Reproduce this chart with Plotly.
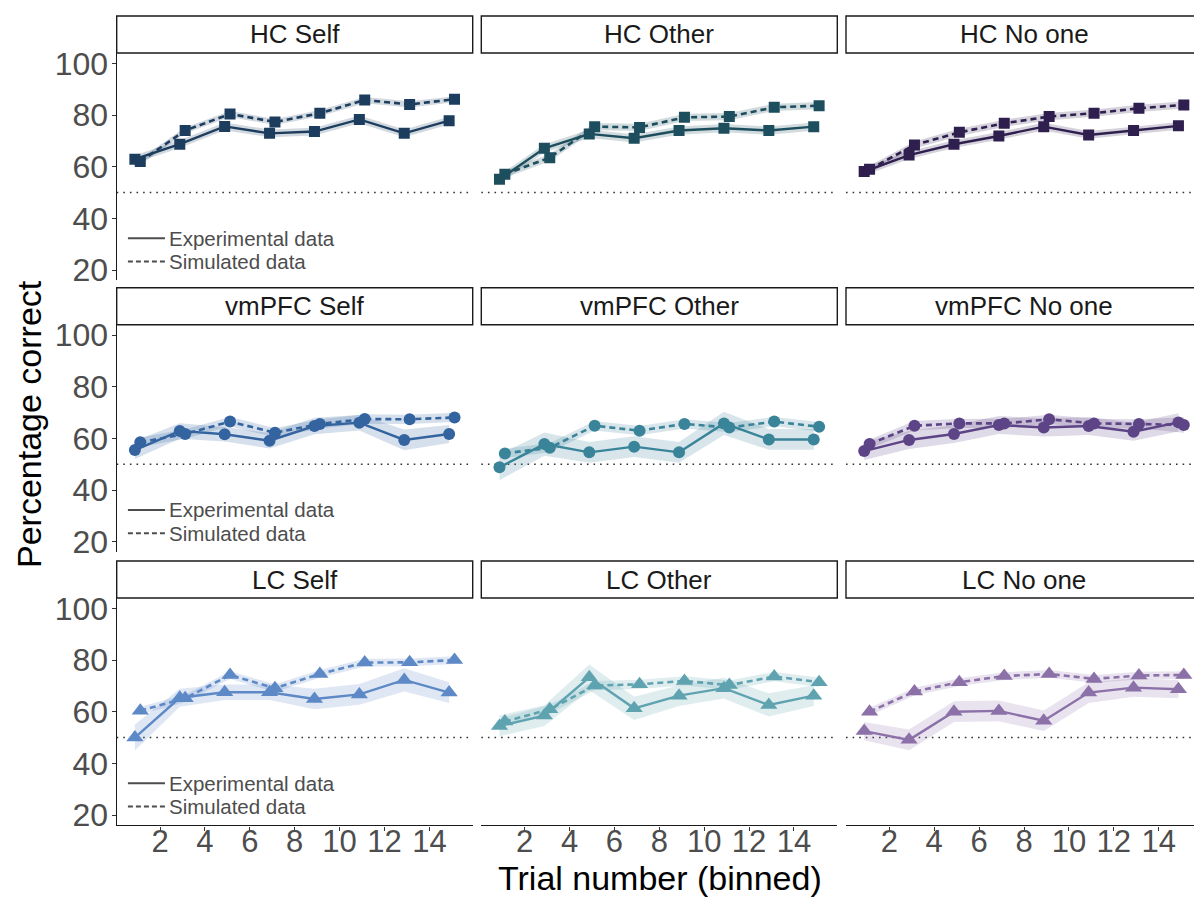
import plotly.graph_objects as go

# ---------------- data ----------------
trial_bins = [1, 3, 5, 7, 9, 11, 13, 15]
x_ticks = [2, 4, 6, 8, 10, 12, 14]
y_ticks = [20, 40, 60, 80, 100]
regions = ["HC", "vmPFC", "LC"]
conditions = ["Self", "Other", "No one"]
legend_labels = ["Experimental data", "Simulated data"]
chance_level = 50

hc_self_exp = [62.9, 68.7, 75.6, 72.9, 73.6, 78.3, 72.9, 77.8]
hc_self_sim = [62.0, 74.0, 80.4, 77.3, 80.7, 85.8, 84.1, 86.1]
hc_self_exp_se = [1.5, 1.5, 1.5, 1.5, 1.5, 1.5, 1.5, 1.5]
hc_self_sim_se = [1.2, 1.2, 1.2, 1.2, 1.2, 1.2, 1.2, 1.2]

hc_other_exp = [55.1, 67.1, 72.7, 71.0, 74.0, 74.9, 74.0, 75.5]
hc_other_sim = [57.1, 63.5, 75.5, 75.2, 79.1, 79.4, 83.0, 83.6]
hc_other_exp_se = [1.6, 1.6, 1.6, 1.6, 1.6, 1.6, 1.6, 1.6]
hc_other_sim_se = [1.4, 1.4, 1.4, 1.4, 1.4, 1.4, 1.4, 1.4]

hc_noone_exp = [58.1, 64.5, 68.7, 71.9, 75.5, 72.3, 74.0, 75.8]
hc_noone_sim = [59.0, 68.4, 73.3, 76.8, 79.4, 80.7, 82.6, 83.9]
hc_noone_exp_se = [1.5, 1.5, 1.5, 1.5, 1.5, 1.5, 1.5, 1.5]
hc_noone_sim_se = [1.4, 1.4, 1.4, 1.4, 1.4, 1.4, 1.4, 1.4]

vmpfc_self_exp = [55.5, 62.9, 61.6, 59.1, 64.8, 66.1, 59.4, 61.7]
vmpfc_self_sim = [58.5, 61.7, 66.5, 62.2, 65.6, 67.5, 67.4, 68.1]
vmpfc_self_exp_se = [3.5, 3.0, 2.8, 3.0, 3.2, 3.0, 4.0, 3.5]
vmpfc_self_sim_se = [1.8, 1.8, 1.8, 1.8, 1.8, 1.8, 1.8, 1.8]

vmpfc_other_exp = [48.8, 57.8, 54.6, 56.8, 54.6, 65.8, 59.6, 59.6]
vmpfc_other_sim = [54.2, 56.4, 64.9, 63.0, 65.6, 64.2, 66.5, 64.5]
vmpfc_other_exp_se = [5.0, 4.5, 4.0, 4.0, 4.0, 4.5, 4.0, 4.0]
vmpfc_other_sim_se = [1.8, 1.8, 1.8, 1.8, 1.8, 1.8, 1.8, 1.8]

vmpfc_noone_exp = [55.1, 59.4, 61.7, 65.2, 64.2, 64.8, 62.6, 66.2]
vmpfc_noone_sim = [57.8, 64.9, 65.8, 65.8, 67.4, 65.8, 65.6, 65.2]
vmpfc_noone_exp_se = [3.5, 3.5, 3.5, 3.5, 3.5, 3.5, 3.5, 3.5]
vmpfc_noone_sim_se = [1.8, 1.8, 1.8, 1.8, 1.8, 1.8, 1.8, 3.0]

lc_self_exp = [50.0, 65.4, 67.5, 67.5, 64.9, 66.7, 72.3, 67.4]
lc_self_sim = [60.4, 65.2, 74.2, 69.1, 74.6, 79.0, 79.1, 80.0]
lc_self_exp_se = [5.0, 3.5, 3.0, 3.0, 4.0, 4.0, 4.5, 4.0]
lc_self_sim_se = [1.5, 1.5, 1.5, 1.5, 1.5, 1.5, 1.5, 1.5]

lc_other_exp = [54.5, 58.5, 73.3, 61.3, 66.2, 69.1, 62.6, 66.2]
lc_other_sim = [56.2, 60.9, 70.1, 70.6, 71.9, 70.3, 73.6, 71.4]
lc_other_exp_se = [4.0, 4.0, 5.0, 4.5, 4.0, 4.0, 4.5, 4.0]
lc_other_sim_se = [1.8, 1.8, 1.8, 1.8, 1.8, 1.8, 1.8, 1.8]

lc_noone_exp = [52.5, 49.1, 60.0, 60.3, 56.5, 67.4, 69.3, 68.7]
lc_noone_sim = [60.0, 67.8, 71.4, 73.8, 74.6, 72.7, 74.0, 74.2]
lc_noone_exp_se = [3.5, 4.0, 4.0, 4.0, 4.0, 4.0, 3.5, 3.5]
lc_noone_sim_se = [1.5, 1.5, 1.5, 1.5, 1.5, 1.5, 1.5, 1.5]

panel_colors = [
    ["#1c3d5e", "#1d4e5e", "#2e1f4e"],
    ["#3464a0", "#3a8499", "#5d4486"],
    ["#5d89c6", "#5fa3b1", "#8c71a9"],
]
region_symbols = ["square", "circle", "triangle-up"]
region_sizes = [11, 12, 15]

panel_data = [
    [(hc_self_exp, hc_self_sim, hc_self_exp_se, hc_self_sim_se),
     (hc_other_exp, hc_other_sim, hc_other_exp_se, hc_other_sim_se),
     (hc_noone_exp, hc_noone_sim, hc_noone_exp_se, hc_noone_sim_se)],
    [(vmpfc_self_exp, vmpfc_self_sim, vmpfc_self_exp_se, vmpfc_self_sim_se),
     (vmpfc_other_exp, vmpfc_other_sim, vmpfc_other_exp_se, vmpfc_other_sim_se),
     (vmpfc_noone_exp, vmpfc_noone_sim, vmpfc_noone_exp_se, vmpfc_noone_sim_se)],
    [(lc_self_exp, lc_self_sim, lc_self_exp_se, lc_self_sim_se),
     (lc_other_exp, lc_other_sim, lc_other_exp_se, lc_other_sim_se),
     (lc_noone_exp, lc_noone_sim, lc_noone_exp_se, lc_noone_sim_se)],
]

# ---------------- layout geometry (pixels) ----------------
W, H = 1194, 899
col_px = [(116.7, 472.7), (481.3, 837.3), (846.0, 1202.0)]
row_px = [(53.0, 280.4), (324.7, 552.1), (598.0, 825.4)]
strip_h = 37.0
dodge = 0.12
x_range = [0.07, 15.93]
y_range = [16, 104]
FONT = "Liberation Sans, Arial, Helvetica, sans-serif"
TICK_COL = "#4d4d4d"


def hex_rgba(h, a):
    h = h.lstrip("#")
    return "rgba(%d,%d,%d,%.2f)" % (int(h[0:2], 16), int(h[2:4], 16), int(h[4:6], 16), a)


fig = go.Figure()
layout = {}
shapes = []
annotations = []

for r in range(3):
    for c in range(3):
        i = r * 3 + c + 1
        xn = "x" if i == 1 else "x%d" % i
        yn = "y" if i == 1 else "y%d" % i
        xk = "xaxis" if i == 1 else "xaxis%d" % i
        yk = "yaxis" if i == 1 else "yaxis%d" % i
        color = panel_colors[r][c]
        exp, sim, exp_se, sim_se = panel_data[r][c]

        x0p, x1p = col_px[c]
        xr = list(x_range)
        x1p_d = x1p
        if x1p > W:
            xr[1] = x_range[0] + (W - x0p) / (x1p - x0p) * (x_range[1] - x_range[0])
            x1p_d = W
        y0p, y1p = row_px[r]
        bottom = r == 2
        left = c == 0
        layout[xk] = dict(
            domain=[x0p / W, x1p_d / W], range=xr, anchor=yn, automargin=False,
            showgrid=False, zeroline=False, fixedrange=True,
            showline=bottom, linecolor="#1a1a1a", linewidth=1.3,
            ticks="outside" if bottom else "", ticklen=4, tickwidth=1.2, tickcolor="#333333",
            tickvals=x_ticks, showticklabels=bottom, ticklabelstandoff=-16,
            tickfont=dict(size=31, color=TICK_COL, family=FONT),
        )
        layout[yk] = dict(
            domain=[1 - y1p / H, 1 - y0p / H], range=y_range, anchor=xn, automargin=False,
            showgrid=False, zeroline=False, fixedrange=True,
            showline=left, linecolor="#1a1a1a", linewidth=1.3,
            ticks="outside" if left else "", ticklen=4, tickwidth=1.2, tickcolor="#333333",
            tickvals=y_ticks, showticklabels=left, ticklabelstandoff=-3,
            tickfont=dict(size=32, color=TICK_COL, family=FONT),
        )

        shapes.append(dict(type="line", xref="%s domain" % xn, yref=yn,
                           x0=0, x1=1, y0=chance_level, y1=chance_level,
                           line=dict(color="#333333", width=1.6, dash="1.6px,5px"), layer="below"))

        xs_exp = [t - dodge for t in trial_bins]
        xs_sim = [t + dodge for t in trial_bins]

        for xs, vals, se in ((xs_exp, exp, exp_se), (xs_sim, sim, sim_se)):
            up = [v + s for v, s in zip(vals, se)]
            lo = [v - s for v, s in zip(vals, se)]
            fig.add_trace(go.Scatter(
                x=xs + xs[::-1], y=up + lo[::-1], xaxis=xn, yaxis=yn,
                fill="toself", fillcolor=hex_rgba(color, 0.2), line=dict(width=0),
                mode="lines", hoverinfo="skip", showlegend=False))

        fig.add_trace(go.Scatter(
            x=xs_exp, y=exp, xaxis=xn, yaxis=yn, mode="lines+markers",
            line=dict(color=color, width=2.4),
            marker=dict(symbol=region_symbols[r], size=region_sizes[r], color=color),
            name=legend_labels[0], showlegend=False))
        fig.add_trace(go.Scatter(
            x=xs_sim, y=sim, xaxis=xn, yaxis=yn, mode="lines+markers",
            line=dict(color=color, width=2.6, dash="6px,4px"),
            marker=dict(symbol=region_symbols[r], size=region_sizes[r], color=color),
            name=legend_labels[1], showlegend=False))

        shapes.append(dict(type="rect", xref="paper", yref="paper",
                           x0=x0p / W, x1=x1p / W,
                           y0=1 - y0p / H, y1=1 - (y0p - strip_h) / H,
                           line=dict(color="#1a1a1a", width=1.4), fillcolor="white"))
        annotations.append(dict(xref="paper", yref="paper",
                                x=(x0p + x1p) / 2 / W,
                                y=1 - (y0p - strip_h / 2) / H,
                                text="%s %s" % (regions[r], conditions[c]),
                                showarrow=False, xanchor="center", yanchor="middle",
                                font=dict(size=26, color="#1a1a1a", family=FONT)))

        if left:
            for k, (ly, dash) in enumerate(((32.3, "solid"), (23.3, "5px,3px"))):
                shapes.append(dict(type="line", xref=xn, yref=yn, x0=0.57, x1=2.22,
                                   y0=ly, y1=ly, line=dict(color="#4d4d4d", width=2, dash=dash)))
                annotations.append(dict(xref=xn, yref=yn, x=2.3, y=ly, text=legend_labels[k],
                                        showarrow=False, xanchor="left", yanchor="middle",
                                        font=dict(size=20.5, color="#4d4d4d", family=FONT)))

annotations.append(dict(xref="paper", yref="paper", x=660 / W, y=0,
                        text="Trial number (binned)", showarrow=False,
                        xanchor="center", yanchor="bottom",
                        font=dict(size=34, color="black", family=FONT)))
annotations.append(dict(xref="paper", yref="paper", x=29 / W, y=1 - 424 / H,
                        text="Percentage correct", showarrow=False, textangle=-90,
                        xanchor="center", yanchor="middle",
                        font=dict(size=34, color="black", family=FONT)))

fig.update_layout(
    template="none",
    width=W, height=H,
    margin=dict(l=0, r=0, t=0, b=0, pad=0, autoexpand=False),
    paper_bgcolor="white", plot_bgcolor="white",
    showlegend=False,
    font=dict(family=FONT),
    shapes=shapes, annotations=annotations,
    **layout,
)

fig.write_html("out.html", config={"displayModeBar": False},
               post_script="document.body.style.margin='0px';")
